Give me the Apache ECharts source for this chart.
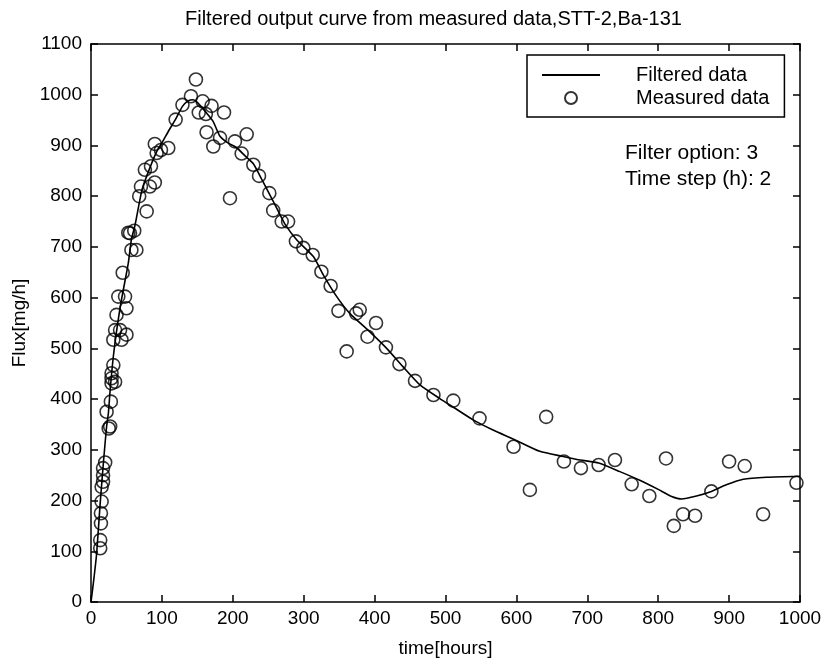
<!DOCTYPE html>
<html>
<head>
<meta charset="utf-8">
<script src="https://cdn.jsdelivr.net/npm/echarts@6/dist/echarts.min.js"></script>
<style>
html,body{margin:0;padding:0;background:#fff;}
#chart{width:826px;height:661px;}
</style>
</head>
<body>
<div id="chart"></div>
<script>
// ---- Data ----
var titleText = 'Filtered output curve from measured data,STT-2,Ba-131';
var xName = 'time[hours]';
var yName = 'Flux[mg/h]';
var xTicks = [0, 100, 200, 300, 400, 500, 600, 700, 800, 900, 1000];
var yTicks = [0, 100, 200, 300, 400, 500, 600, 700, 800, 900, 1000, 1100];

var filteredTime = [0, 4, 8, 12.7, 17.4, 22, 24.5, 27, 31.5, 37, 43, 52.6, 57, 62, 71.5, 80, 92.6, 100, 110, 119, 129, 137, 144, 150, 163, 172, 182, 193, 205, 217, 229, 242, 257, 265, 273.6, 290, 313.6, 327.6, 346.6, 365, 393, 417, 440, 464, 492, 511, 539, 567, 596, 633, 666, 690, 716, 746, 774, 800, 819, 833, 854, 875, 896, 920, 953, 1000];
var filteredFlux = [0, 45, 96, 190, 273, 346, 372, 418, 484, 543, 596, 668, 715, 742, 810, 845, 888, 905, 930, 951, 977, 988, 990, 985, 964, 948, 918, 905, 896, 880, 864, 830, 790, 768, 745, 714, 681, 645, 602, 569, 533, 500, 464, 428, 401, 384, 359, 339, 321, 297, 287, 280, 274, 257, 240, 222, 208, 203, 209, 218, 231, 242, 246, 248];

var measuredTime = [13, 13, 14, 14, 15, 15, 17, 17, 17, 20, 22, 25, 27, 28, 29, 29, 29, 31.5, 34, 31.5, 43, 34, 41, 50, 36, 50, 38.5, 48, 44.7, 57, 64, 55, 52.6, 61, 78.5, 68, 70.5, 83, 90, 76, 84.6, 92.6, 90, 98.7, 109, 119.4, 129, 141, 148, 157.5, 152, 162, 170, 187.6, 163, 182, 172.5, 203, 219.6, 212.5, 196, 229, 237, 251.5, 257, 269, 278, 289, 299.5, 312.7, 325, 338, 349, 374, 379, 360.6, 390, 402, 416, 435, 457, 483, 511, 548, 596, 619, 642, 667, 691, 716, 739, 762.6, 787.5, 811, 822, 835, 852, 875, 900, 922, 948, 995];
var measuredFlux = [106, 122, 155, 175, 198, 227, 237, 250, 264, 275, 375, 342, 346, 395, 431, 441, 451, 467, 434, 517, 517, 536, 536, 527, 566, 579, 602, 602, 649, 694, 694, 727, 728, 732, 770, 800, 819, 819, 827, 852, 859, 885, 903, 891, 895, 951, 980, 997, 1030, 987, 965, 962, 978, 965, 926, 915, 898, 908, 922, 884, 796, 862, 840, 806, 772, 750, 750, 711, 698, 684, 651, 623, 574, 569, 576, 494, 523, 550, 502, 469, 436, 408, 397, 362, 306, 221, 365, 277, 264, 270, 280, 232, 209, 283, 150, 173, 170, 218, 277, 268, 173, 235];

var legendNames = ['Filtered data', 'Measured data'];
var noteLines = ['Filter option: 3', 'Time step (h): 2'];

// ---- Build ----
function zip(a, b) { var r = []; for (var i = 0; i < a.length; i++) r.push([a[i], b[i]]); return r; }
function plain(v) { return String(v); }
var FONT = '"Liberation Sans", Arial, Helvetica, sans-serif';
var chart = echarts.init(document.getElementById('chart'), null, {renderer: 'canvas'});

var xMin = xTicks[0], xMax = xTicks[xTicks.length - 1], xInt = xTicks[1] - xTicks[0];
var yMin = yTicks[0], yMax = yTicks[yTicks.length - 1], yInt = yTicks[1] - yTicks[0];

function axisBase(extra) {
  var o = {
    type: 'value',
    axisLine: {show: true, onZero: false, lineStyle: {color: '#000', width: 1.5}},
    axisTick: {show: true, inside: true, length: 7, lineStyle: {color: '#000', width: 1.5}},
    splitLine: {show: false},
    axisLabel: {show: false}
  };
  for (var k in extra) o[k] = extra[k];
  return o;
}

var option = {
  backgroundColor: '#fff',
  animation: false,
  title: {
    text: titleText,
    left: 185, top: 9, padding: 0,
    textStyle: {fontSize: 20, fontWeight: 'normal', color: '#000', fontFamily: FONT}
  },
  grid: {left: 91, right: 26, top: 44, bottom: 59, containLabel: false, outerBoundsMode: 'none'},
  xAxis: [
    axisBase({min: xMin, max: xMax, interval: xInt, position: 'bottom',
      name: xName, nameLocation: 'middle', nameGap: 37,
      nameTextStyle: {fontSize: 19, color: '#000', fontFamily: FONT},
      axisLabel: {show: true, color: '#000', fontSize: 19, fontFamily: FONT, margin: 7, formatter: plain}}),
    axisBase({min: xMin, max: xMax, interval: xInt, position: 'top'})
  ],
  yAxis: [
    axisBase({min: yMin, max: yMax, interval: yInt, position: 'left',
      name: yName, nameLocation: 'middle', nameGap: 55, nameRotate: 90,
      nameTextStyle: {fontSize: 19, color: '#000', fontFamily: FONT},
      axisLabel: {show: true, color: '#000', fontSize: 19, fontFamily: FONT, margin: 9, formatter: plain}}),
    axisBase({min: yMin, max: yMax, interval: yInt, position: 'right'})
  ],
  legend: {
    orient: 'vertical',
    left: 527, top: 55,
    padding: [10, 15, 9, 14],
    itemGap: 3,
    itemWidth: 58,
    itemHeight: 12,
    borderColor: '#000', borderWidth: 1.5, borderRadius: 0,
    backgroundColor: '#fff',
    data: [
      {name: legendNames[0], itemStyle: {opacity: 0}},
      {name: legendNames[1]}
    ],
    textStyle: {fontSize: 20, color: '#000', fontFamily: FONT, lineHeight: 20, padding: [0, 0, 0, 31]}
  },
  graphic: [
    {type: 'text', left: 625, top: 143, style: {text: noteLines[0], fontSize: 21, fill: '#000', fontFamily: FONT}},
    {type: 'text', left: 625, top: 169, style: {text: noteLines[1], fontSize: 21, fill: '#000', fontFamily: FONT}}
  ],
  series: [
    {
      name: legendNames[0], type: 'line', xAxisIndex: 0, yAxisIndex: 0,
      data: zip(filteredTime, filteredFlux),
      symbol: 'none', smooth: 0.2,
      lineStyle: {color: '#000', width: 1.6},
      itemStyle: {color: '#000'},
      z: 2
    },
    {
      name: legendNames[1], type: 'scatter', xAxisIndex: 0, yAxisIndex: 0,
      data: zip(measuredTime, measuredFlux),
      symbol: 'circle', symbolSize: 13,
      itemStyle: {color: 'rgba(0,0,0,0)', borderColor: '#000', borderWidth: 1.6},
      z: 3
    }
  ]
};
chart.setOption(option);
</script>
</body>
</html>
